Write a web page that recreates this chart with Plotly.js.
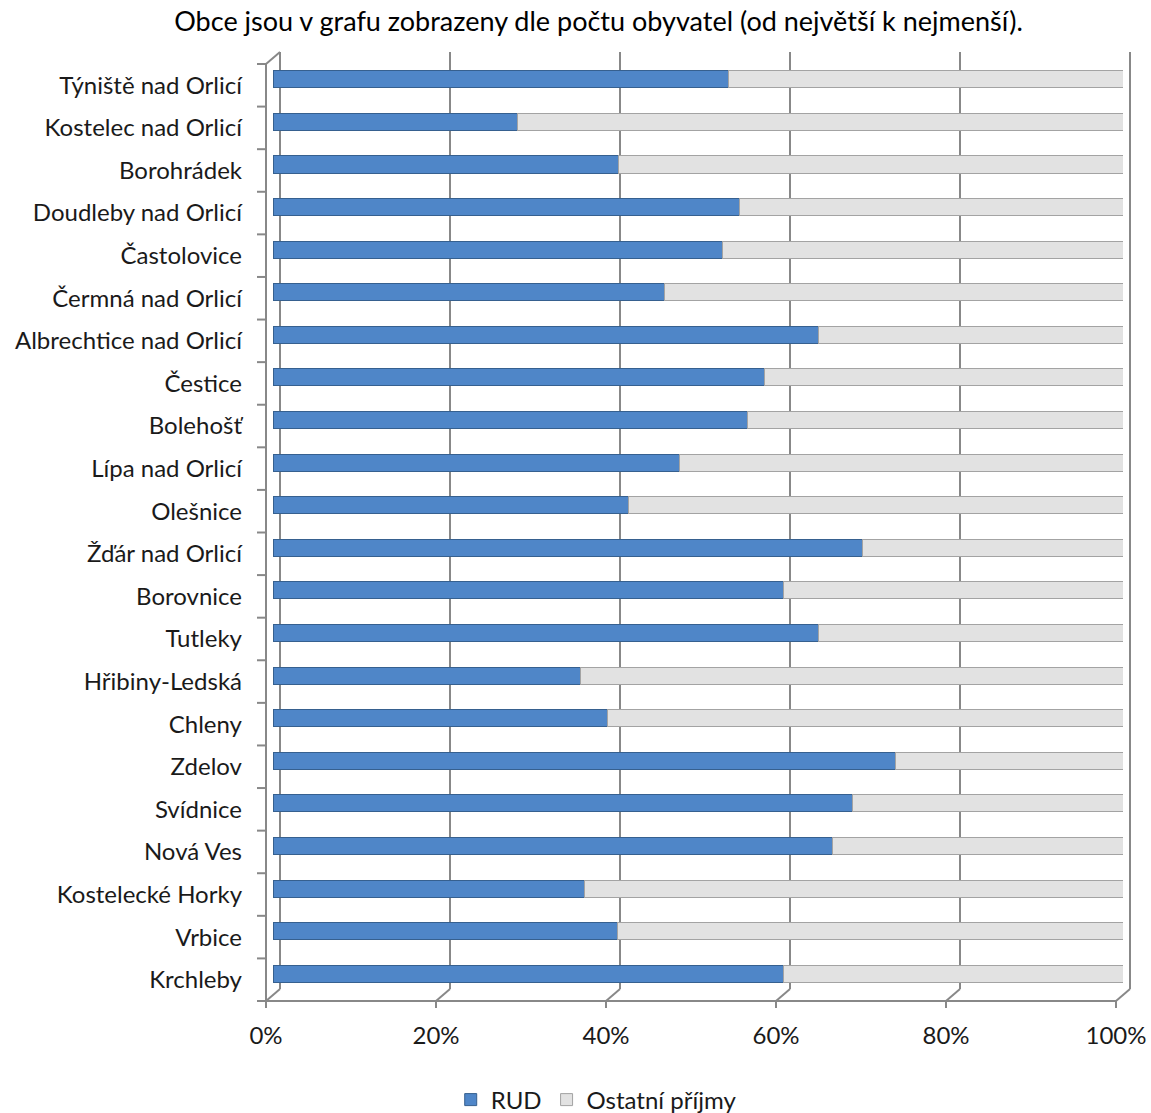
<!DOCTYPE html>
<html>
<head>
<meta charset="utf-8">
<script src="https://cdn.plot.ly/plotly-3.0.1.min.js"></script>
<style>html,body{margin:0;padding:0;background:#fff;}#chart{width:1151px;height:1113px;}</style>
</head>
<body>
<div id="chart"></div>
<script>
const chartTitle = 'Obce jsou v grafu zobrazeny dle počtu obyvatel (od největší k nejmenší).';
const categories = ['Týniště nad Orlicí','Kostelec nad Orlicí','Borohrádek','Doudleby nad Orlicí','Častolovice','Čermná nad Orlicí','Albrechtice nad Orlicí','Čestice','Bolehošť','Lípa nad Orlicí','Olešnice','Žďár nad Orlicí','Borovnice','Tutleky','Hřibiny-Ledská','Chleny','Zdelov','Svídnice','Nová Ves','Kostelecké Horky','Vrbice','Krchleby'];
const rud = [53.6, 28.8, 40.7, 54.9, 52.9, 46.0, 64.2, 57.8, 55.8, 47.8, 41.8, 69.4, 60.1, 64.2, 36.2, 39.3, 73.2, 68.2, 65.8, 36.6, 40.5, 60.0];
const ostatni = [46.4, 71.2, 59.3, 45.1, 47.1, 54.0, 35.8, 42.2, 44.2, 52.2, 58.2, 30.6, 39.9, 35.8, 63.8, 60.7, 26.8, 31.8, 34.2, 63.4, 59.5, 40.0];
const seriesNames = ['RUD', 'Ostatní příjmy'];
const tickVals = [0, 20, 40, 60, 80, 100];
const tickLabels = ['0%', '20%', '40%', '60%', '80%', '100%'];

// layout geometry
const WIDTH = 1151, HEIGHT = 1113;
const M = {l: 273, r: 28, t: 58, b: 118};
const PW = WIDTH - M.l - M.r, PH = HEIGHT - M.t - M.b;
const D = 7, DY = 6; // pseudo-3D depth offsets in px
const fx = p => p / PW, fy = p => p / PH;
const gridColor = '#888888';

const shapes = [];
// back wall vertical gridlines + floor diagonals
tickVals.forEach(v => {
  const xb = v / 100 + fx(D), xf = v / 100 - fx(D);
  shapes.push({type: 'line', xref: 'paper', yref: 'paper', x0: xb, x1: xb, y0: fy(DY), y1: 1 + fy(DY), line: {color: gridColor, width: 2}, layer: 'below'});
  shapes.push({type: 'line', xref: 'paper', yref: 'paper', x0: xb, x1: xf, y0: fy(DY), y1: -fy(DY), line: {color: gridColor, width: 2}, layer: 'below'});
  shapes.push({type: 'line', xref: 'paper', yref: 'paper', x0: xf, x1: xf, y0: -fy(DY), y1: -fy(DY + 7), line: {color: gridColor, width: 2}, layer: 'below'});
});
// front bottom axis line
shapes.push({type: 'line', xref: 'paper', yref: 'paper', x0: -fx(D), x1: 1 - fx(D), y0: -fy(DY), y1: -fy(DY), line: {color: gridColor, width: 2}, layer: 'below'});
// front left axis line and top diagonal
shapes.push({type: 'line', xref: 'paper', yref: 'paper', x0: -fx(D), x1: -fx(D), y0: -fy(DY), y1: 1 - fy(DY), line: {color: gridColor, width: 2}, layer: 'below'});
shapes.push({type: 'line', xref: 'paper', yref: 'paper', x0: -fx(D), x1: fx(D), y0: 1 - fy(DY), y1: 1 + fy(DY), line: {color: gridColor, width: 2}, layer: 'below'});
// category boundary ticks on the left axis
for (let k = 0; k <= categories.length; k++) {
  const yy = 1 - k / categories.length - fy(DY);
  shapes.push({type: 'line', xref: 'paper', yref: 'paper', x0: -fx(D + 9), x1: -fx(D), y0: yy, y1: yy, line: {color: gridColor, width: 2}, layer: 'below'});
}

const font = 'Lato, "Open Sans", sans-serif';
const traces = [
  {type: 'bar', orientation: 'h', name: seriesNames[0], y: categories, x: rud,
   marker: {color: '#4f86c8', line: {color: '#36608f', width: 1}}},
  {type: 'bar', orientation: 'h', name: seriesNames[1], y: categories, x: ostatni,
   marker: {color: '#e2e2e2', line: {color: '#a3a3a3', width: 1}}}
];

const layout = {
  width: WIDTH, height: HEIGHT,
  margin: M,
  paper_bgcolor: '#fff', plot_bgcolor: 'rgba(0,0,0,0)',
  font: {family: font, size: 24, color: '#1a1a1a'},
  title: {text: chartTitle, font: {family: font, size: 27, color: '#000'}, x: 0.52, xref: 'container', y: 1 - 22 / HEIGHT, yref: 'container', xanchor: 'center', yanchor: 'middle'},
  barmode: 'stack', barnorm: 'percent', bargap: 0.6,
  showlegend: true,
  legend: {orientation: 'h', xref: 'container', yref: 'container', x: 0.518, xanchor: 'center', y: 13 / HEIGHT, yanchor: 'middle', font: {family: font, size: 24, color: '#1a1a1a'}, traceorder: 'normal'},
  xaxis: {range: [0, 100], showgrid: false, zeroline: false, showline: false, tickvals: tickVals, ticktext: tickLabels, ticks: '', ticklabelstandoff: 24, ticklabelshift: -D, fixedrange: true},
  yaxis: {type: 'category', categoryorder: 'array', categoryarray: categories, range: [categories.length - 0.5, -0.5], showgrid: false, zeroline: false, showline: false, ticks: '', ticklabelstandoff: 30, ticklabelshift: -DY, fixedrange: true},
  shapes: shapes,
  hovermode: false
};

Plotly.newPlot('chart', traces, layout, {displayModeBar: false, staticPlot: true});
</script>
</body>
</html>
